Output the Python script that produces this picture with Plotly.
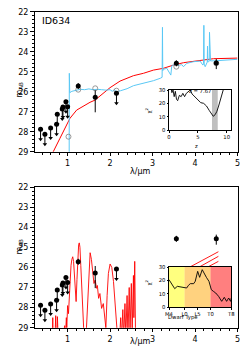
import plotly.graph_objects as go

# window is 249x362; the page body has an 8px margin, so the figure is 8px smaller
OFF = 8
W, H = 249 - OFF, 362 - OFF

# ---------------- data ----------------
# photometry (black points)
lim_lam = [0.363, 0.465, 0.60, 0.74, 0.756, 0.874, 0.89, 0.96, 1.0, 2.15]
lim_mag = [27.88, 28.13, 27.82, 27.63, 27.13, 26.87, 26.77, 26.50, 26.75, 26.08]
lim_len = [0.5] * 10

det_lam = [1.25, 1.65, 3.56, 4.50]
det_mag = [25.72, 26.28, 24.58, 24.57]
det_err_plus = [0.15, 0.75, 0.15, 0.30]
det_err_minus = [0.15, 0.35, 0.15, 0.20]

# model photometry (open circles)
mod_lam = [1.02, 1.25, 1.65, 2.15, 3.56, 4.50]
mod_mag = [28.25, 25.90, 25.83, 25.95, 24.75, 24.58]

# high-z galaxy template (blue)
gal_lam = [0.90, 1.035, 1.04, 1.05, 1.10, 1.20, 1.30, 1.40, 1.50, 1.60, 1.70, 1.80, 1.90, 2.00,
           2.05, 2.10, 2.15, 2.25, 2.40, 2.55, 2.79, 3.02, 3.18, 3.225, 3.233, 3.24, 3.256, 3.335,
           3.374, 3.43, 3.453, 3.531, 3.60, 3.689, 3.728, 3.807, 3.964, 4.121, 4.184, 4.20, 4.208,
           4.216, 4.239, 4.278, 4.288, 4.294, 4.30, 4.318, 4.334, 4.341, 4.348, 4.365, 4.514, 4.75, 5.0]
gal_mag = [31.0, 31.0, 25.08, 26.05, 25.98, 25.92, 25.88, 25.90, 25.86, 25.90, 25.88, 25.90, 25.92, 25.90,
           25.98, 25.90, 26.00, 25.95, 25.85, 25.70, 25.58, 25.45, 25.33, 25.28, 22.78, 24.95, 24.88, 24.83,
           25.00, 25.17, 24.70, 24.62, 24.68, 24.65, 24.75, 24.58, 24.50, 24.47, 24.67, 24.60, 22.68,
           24.62, 24.75, 24.52, 24.52, 23.72, 24.50, 24.50, 24.48, 23.03, 24.46, 24.46, 24.45, 24.42, 24.38]

# low-z galaxy template (red, top)
red_lam = [0.60, 0.662, 0.819, 0.937, 1.0, 1.055, 1.212, 1.37, 1.527, 1.645, 1.841, 1.998, 2.234,
           2.549, 2.785, 3.02, 3.256, 3.49, 3.728, 4.12, 4.435, 5.0]
red_mag = [29.5, 29.0, 28.33, 27.83, 27.58, 27.33, 26.92, 26.72, 26.53, 26.42, 26.10, 25.80, 25.47,
           25.20, 25.08, 24.92, 24.83, 24.67, 24.55, 24.42, 24.35, 24.32]

# brown dwarf template (red, bottom)
bd_lam = [0.60, 0.64, 0.65, 0.66, 0.70, 0.72, 0.73, 0.75, 0.76, 0.77, 0.78, 0.85, 0.90, 0.93, 0.95,
          0.97, 0.98, 0.99, 1.0, 1.02, 1.04, 1.06, 1.08, 1.10, 1.12, 1.14, 1.16, 1.18, 1.20, 1.22,
          1.24, 1.26, 1.275, 1.29, 1.31, 1.33, 1.35, 1.39, 1.43, 1.46, 1.50, 1.53, 1.56, 1.59, 1.62,
          1.65, 1.68, 1.70, 1.73, 1.76, 1.80, 1.84, 1.88, 1.90, 1.93, 1.96, 2.00, 2.04, 2.08, 2.12,
          2.15, 2.18, 2.22, 2.25, 2.27, 2.30, 2.32, 2.35, 2.37, 2.40, 2.42, 2.45, 2.47, 2.50, 2.52,
          2.55, 2.56, 2.58, 2.60, 2.65]
bd_mag = [29.6, 29.6, 28.5, 29.6, 29.6, 28.4, 29.6, 29.3, 28.45, 29.1, 29.6, 29.6, 29.4, 28.9, 29.4,
          28.5, 29.0, 28.6, 27.9, 28.3, 27.4, 26.5, 25.9, 25.6, 25.47, 25.7, 26.4, 27.2, 27.7, 26.6,
          25.4, 24.85, 24.78, 25.0, 25.9, 27.2, 28.4, 29.6, 29.6, 28.3, 26.3, 25.27, 25.6, 26.3, 26.8,
          26.63, 27.04, 26.9, 27.54, 27.3, 28.04, 27.8, 28.6, 29.0, 27.4, 26.3, 25.83, 26.0, 26.7, 27.8,
          28.6, 29.6, 29.6, 28.5, 29.6, 28.1, 29.6, 27.8, 29.5, 27.4, 29.5, 27.0, 29.3, 26.8, 29.2,
          26.4, 28.5, 25.7, 29.6, 29.6]

# brown dwarf template continuing behind the lower inset
bd_tail_lam = [3.88, 4.55, None, 4.10, 4.55, None, 4.30, 4.55]
bd_tail_mag = [25.98, 25.22, None, 25.98, 25.45, None, 25.98, 25.70]

# chi^2 vs redshift (upper inset)
z_grid = [0.0, 0.3, 0.5, 0.7, 0.9, 1.1, 1.3, 1.5, 1.8, 2.1, 2.4, 2.7, 3.0, 3.4, 3.7, 4.0, 4.5,
          5.0, 5.5, 6.0, 6.5, 7.0, 7.4, 7.67, 8.0, 8.3, 8.6, 9.0, 9.3, 9.6]
chi2_z = [36, 33, 28, 30, 25, 29, 23, 22, 26, 25, 27.5, 25, 27.5, 29, 30, 27, 25,
          23, 20.5, 20, 18, 14.5, 11.5, 10.3, 11.5, 14, 18, 24, 29, 33]
z_best = 7.67
z_band = [7.45, 8.45]

# chi^2 vs dwarf type (lower inset); M4=0 ... T8=24
dw_idx = [0, 1.3, 2.2, 3.2, 4.2, 5.5, 6.8, 7.5, 8.2, 9.5, 10.1, 11.05, 11.8, 12.8, 13.4, 14.4,
          15.4, 16.3, 17.1, 18.0, 19.1, 20.3, 21.3, 22.2, 23.0, 23.7, 24.0]
chi2_dw = [20.5, 16.75, 13.75, 15.5, 15, 14.75, 14.25, 16.25, 17.5, 17.5, 19.25, 26.75, 22.25, 28,
           25.5, 22.25, 19.25, 13, 11.75, 10.5, 8, 4.25, 7.25, 4.25, 6.75, 4.25, 6.75]
dw_tick_vals = [0, 6, 11, 16, 24]
dw_tick_text = ["M4", "L0", "L5", "T0", "T8"]
dw_bands = [(0, 6, "rgba(255,255,0,0.5)"), (6, 16, "rgba(255,165,0,0.5)"), (16, 24, "rgba(255,0,0,0.5)")]

BLUE = "#5ac8f5"
FONT = "DejaVu Sans"

# ---------------- layout helpers (window pixel -> paper) ----------------
def px_x(p):
    return (p - OFF) / W

def px_y(p):
    return 1 - (p - OFF) / H

fig = go.Figure()

def add_phot(xa, ya, with_models):
    if with_models:
        fig.add_trace(go.Scatter(x=mod_lam, y=mod_mag, mode="markers", xaxis=xa, yaxis=ya,
                                 marker=dict(symbol="circle-open", size=5, color="#808080",
                                             line=dict(width=0.8, color="#808080")),
                                 showlegend=False, hoverinfo="skip"))
    fig.add_trace(go.Scatter(x=lim_lam, y=lim_mag, mode="markers", xaxis=xa, yaxis=ya,
                             marker=dict(size=5, color="black"),
                             error_y=dict(type="data", array=lim_len, arrayminus=[0] * len(lim_len),
                                          color="black", thickness=1, width=0),
                             showlegend=False, hoverinfo="skip"))
    fig.add_trace(go.Scatter(x=lim_lam, y=[m + l for m, l in zip(lim_mag, lim_len)], mode="markers",
                             xaxis=xa, yaxis=ya,
                             marker=dict(symbol="triangle-down", size=4, color="black"),
                             showlegend=False, hoverinfo="skip"))
    fig.add_trace(go.Scatter(x=det_lam, y=det_mag, mode="markers", xaxis=xa, yaxis=ya,
                             marker=dict(size=5, color="black"),
                             error_y=dict(type="data", array=det_err_plus, arrayminus=det_err_minus,
                                          color="black", thickness=1, width=0),
                             showlegend=False, hoverinfo="skip"))

# top panel
fig.add_trace(go.Scatter(x=red_lam, y=red_mag, mode="lines", line=dict(color="red", width=1),
                         xaxis="x", yaxis="y", showlegend=False, hoverinfo="skip"))
fig.add_trace(go.Scatter(x=gal_lam, y=gal_mag, mode="lines", line=dict(color=BLUE, width=1),
                         xaxis="x", yaxis="y", showlegend=False, hoverinfo="skip"))
add_phot("x", "y", True)

# bottom panel
fig.add_trace(go.Scatter(x=bd_lam, y=bd_mag, mode="lines", line=dict(color="red", width=0.9),
                         xaxis="x2", yaxis="y2", showlegend=False, hoverinfo="skip"))
fig.add_trace(go.Scatter(x=bd_tail_lam, y=bd_tail_mag, mode="lines", line=dict(color="red", width=0.9),
                         xaxis="x2", yaxis="y2", showlegend=False, hoverinfo="skip", connectgaps=False))
add_phot("x2", "y2", False)

# upper inset
fig.add_trace(go.Scatter(x=z_grid, y=chi2_z, mode="lines", line=dict(color="black", width=0.9),
                         xaxis="x3", yaxis="y3", showlegend=False, hoverinfo="skip"))
# lower inset
fig.add_trace(go.Scatter(x=dw_idx, y=chi2_dw, mode="lines", line=dict(color="black", width=0.9),
                         xaxis="x4", yaxis="y4", showlegend=False, hoverinfo="skip"))

shapes = [dict(type="rect", xref="x3", yref="y3", x0=z_band[0], x1=z_band[1], y0=0, y1=30,
               fillcolor="#bfbfbf", line=dict(width=0), layer="below")]
for a, b, c in dw_bands:
    shapes.append(dict(type="rect", xref="x4", yref="y4", x0=a, x1=b, y0=0, y1=30,
                       fillcolor=c, line=dict(width=0), layer="below"))

tickfont = dict(family=FONT, size=8, color="black")
smallfont = dict(family=FONT, size=5.3, color="black")

def main_x(domain, anchor):
    return dict(domain=domain, anchor=anchor, range=[0.22, 5], tickmode="linear", tick0=0, dtick=1,
                ticks="outside", ticklen=3.5, tickwidth=0.8, tickcolor="black",
                minor=dict(dtick=0.2, tick0=0, ticks="outside", ticklen=2, tickwidth=0.6, tickcolor="black"),
                showline=True, linecolor="black", linewidth=1, mirror=True, showgrid=False,
                zeroline=False, tickfont=tickfont, automargin=False, ticklabeloverflow="allow")

def main_y(domain, anchor):
    return dict(domain=domain, anchor=anchor, range=[29, 22], tickmode="linear", tick0=0, dtick=1,
                ticks="outside", ticklen=3.5, tickwidth=0.8, tickcolor="black",
                minor=dict(dtick=0.2, tick0=0, ticks="outside", ticklen=2, tickwidth=0.6, tickcolor="black"),
                showline=True, linecolor="black", linewidth=1, mirror=True, showgrid=False,
                zeroline=False, tickfont=tickfont, automargin=False, ticklabeloverflow="allow")

def inset_axis(domain, anchor, rng, **kw):
    d = dict(domain=domain, anchor=anchor, range=rng, ticks="outside", ticklen=1.5, tickwidth=0.6,
             tickcolor="black", showline=True, linecolor="black", linewidth=1, mirror=True,
             showgrid=False, zeroline=False, tickfont=smallfont, automargin=False,
             ticklabeloverflow="allow")
    d.update(kw)
    return d

top_x = [px_x(34.5), px_x(237.5)]
top_y = [px_y(151.7), px_y(11.7)]
bot_y = [px_y(327.7), px_y(187)]
ins_x = [px_x(169), px_x(231.3)]
ins1_y = [px_y(130), px_y(90)]
ins2_y = [px_y(307), px_y(267)]

annotations = [
    dict(text="ID634", x=px_x(40), y=px_y(20), xref="paper", yref="paper", xanchor="left",
         yanchor="middle", showarrow=False, font=dict(family=FONT, size=9.5, color="black")),
    dict(text="λ/µm", x=px_x(140), y=px_y(171.5), xref="paper", yref="paper", showarrow=False,
         font=tickfont),
    dict(text="λ/µm", x=px_x(140), y=px_y(347.5), xref="paper", yref="paper", showarrow=False,
         font=tickfont),
    dict(text="m<sub>AB</sub>", x=px_x(12.5), y=px_y(80), xref="paper", yref="paper", showarrow=False,
         textangle=-90, font=tickfont),
    dict(text="m<sub>AB</sub>", x=px_x(12.5), y=px_y(257), xref="paper", yref="paper", showarrow=False,
         textangle=-90, font=tickfont),
    dict(text="z = %.2f" % z_best, x=px_x(213), y=px_y(85.5), xref="paper", yref="paper",
         showarrow=False, font=smallfont),
    dict(text="z", x=px_x(200), y=px_y(146.5), xref="paper", yref="paper", showarrow=False, font=smallfont),
    dict(text="χ<sup>2</sup>", x=px_x(149), y=px_y(107), xref="paper", yref="paper", showarrow=False,
         textangle=-90, font=smallfont),
    dict(text="Dwarf Type", x=px_x(200), y=px_y(323), xref="paper", yref="paper", showarrow=False,
         font=smallfont),
    dict(text="χ<sup>2</sup>", x=px_x(149), y=px_y(288), xref="paper", yref="paper", showarrow=False,
         textangle=-90, font=smallfont),
]

fig.update_layout(
    template="none",
    width=W, height=H, autosize=False,
    margin=dict(l=0, r=0, t=0, b=0, pad=0),
    paper_bgcolor="white", plot_bgcolor="white",
    font=dict(family=FONT, color="black"),
    showlegend=False,
    xaxis=main_x(top_x, "y"),
    yaxis=main_y(top_y, "x"),
    xaxis2=main_x(top_x, "y2"),
    yaxis2=main_y(bot_y, "x2"),
    xaxis3=inset_axis(ins_x, "y3", [0, 10.8], tickmode="array", tickvals=[0, 5, 10]),
    yaxis3=inset_axis(ins1_y, "x3", [0, 30], tickmode="array", tickvals=[0, 10, 20, 30]),
    xaxis4=inset_axis(ins_x, "y4", [0, 24], tickmode="array", tickvals=dw_tick_vals, ticktext=dw_tick_text),
    yaxis4=inset_axis(ins2_y, "x4", [0, 30], tickmode="array", tickvals=[0, 10, 20, 30]),
    shapes=shapes,
    annotations=annotations,
)

fig.write_html("out.html")
